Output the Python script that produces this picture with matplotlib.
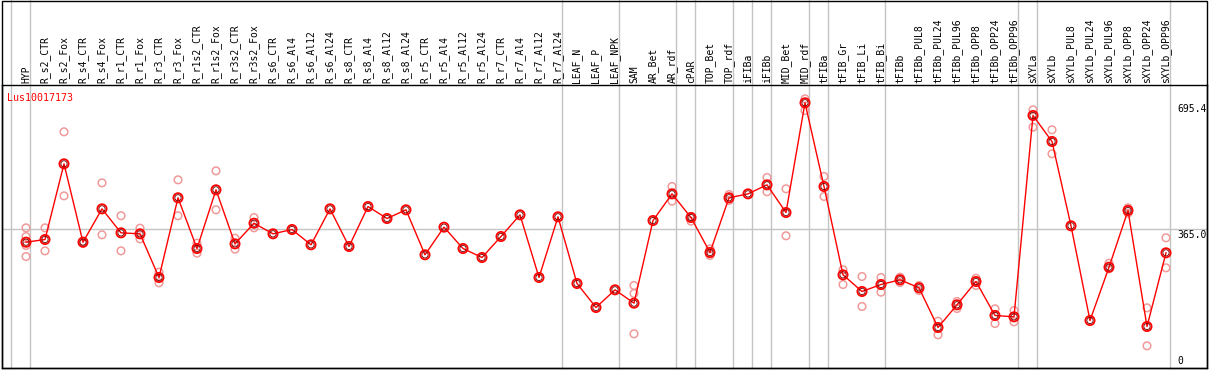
import matplotlib.pyplot as plt
from matplotlib.patches import Rectangle

# sample names along the top
samples = [
    "HYP", "R_s2_CTR", "R_s2_Fox", "R_s4_CTR", "R_s4_Fox", "R_r1_CTR", "R_r1_Fox",
    "R_r3_CTR", "R_r3_Fox", "R_r1s2_CTR", "R_r1s2_Fox", "R_r3s2_CTR", "R_r3s2_Fox",
    "R_s6_CTR", "R_s6_Al4", "R_s6_Al12", "R_s6_Al24", "R_s8_CTR", "R_s8_Al4",
    "R_s8_Al12", "R_s8_Al24", "R_r5_CTR", "R_r5_Al4", "R_r5_Al12", "R_r5_Al24",
    "R_r7_CTR", "R_r7_Al4", "R_r7_Al12", "R_r7_Al24", "LEAF_N", "LEAF_P", "LEAF_NPK",
    "SAM", "AR_Bet", "AR_rdf", "cPAR", "TOP_Bet", "TOP_rdf", "iFIBa", "iFIBb",
    "MID_Bet", "MID_rdf", "tFIBa", "tFIB_Gr", "tFIB_Li", "tFIB_Bi", "tFIBb",
    "tFIBb_PUL8", "tFIBb_PUL24", "tFIBb_PUL96", "tFIBb_OPP8", "tFIBb_OPP24",
    "tFIBb_OPP96", "sXYLa", "sXYLb", "sXYLb_PUL8", "sXYLb_PUL24", "sXYLb_PUL96",
    "sXYLb_OPP8", "sXYLb_OPP24", "sXYLb_OPP96",
]

# mean expression per sample
means = [
    329.9, 336.9, 535.3, 329.9, 417.3, 354.4, 351.8, 237.3, 446.3, 313.3,
    467.2, 325.5, 379.6, 351.8, 363.1, 323.0, 417.3, 318.6, 423.4, 392.0,
    414.8, 296.8, 369.3, 313.3, 289.7, 344.8, 401.6, 237.3, 396.4, 221.6,
    158.6, 205.0, 170.0, 386.7, 456.6, 394.6, 302.8, 446.3, 456.6, 480.3,
    407.7, 695.4, 475.9, 244.3, 200.6, 218.9, 231.3, 210.3, 106.2, 165.7,
    226.8, 137.7, 134.2, 662.1, 593.9, 372.8, 124.5, 264.3, 413.0, 108.8,
    302.0,
]

# individual replicates per sample
replicates = [
    [367.5, 344.8, 321.2, 292.3], [367.5, 307.2], [619.3, 451.4], [332.0, 327.0],
    [485.5, 349.2], [399.2, 307.2], [366.6, 338.7], [251.3, 223.3], [493.4, 399.2],
    [327.3, 301.1], [517.0, 414.8], [340.4, 311.6], [394.6, 367.5],
    [], [], [], [], [], [], [], [], [], [], [], [], [], [], [], [], [], [], [],
    [216.3, 195.3, 89.6], [], [475.9, 437.3], [397.0, 385.0], [312.4, 295.0],
    [454.9, 439.2], [], [499.5, 462.1], [469.9, 346.7], [705.8, 675.2],
    [502.1, 449.7], [257.5, 218.9], [239.9, 161.3], [237.3, 198.8], [238.1, 224.2],
    [216.3, 203.2], [122.7, 87.0], [174.4, 156.0], [235.5, 216.3], [155.2, 116.7],
    [150.8, 121.1], [677.0, 631.4], [624.6, 561.6], [], [], [274.8, 260.1],
    [420.0, 405.9], [157.8, 58.2], [341.4, 262.7],
]

# group separators sit just right of these sample indices
group_ends = [-1, 0, 28, 31, 34, 35, 37, 38, 39, 41, 42, 45, 52, 53, 60]

gene = "Lus10017173"
y_ticks = [0, 365.0, 695.4]
y_tick_labels = ["0", "365.0", "695.4"]

W, H = 1209, 370
fig = plt.figure(figsize=(W / 100, H / 100), dpi=100)
ax = fig.add_axes([2 / W, 2 / H, 1205 / W, 283 / H])

mono = "DejaVu Sans Mono"
red = "#ff0000"
pink = "#f09a9a"
grid = "#c4c4c4"

x = list(range(len(samples)))

# horizontal reference line at the middle tick
ax.axhline(y_ticks[1], color=grid, lw=1, zorder=0)

# group separators run up through the label area
top_ext = 1 + 85 / 283
for g in group_ends:
    ax.axvline(g + 0.23, ymin=0, ymax=top_ext, color=grid, lw=1, clip_on=False, zorder=0)

# replicates
for i, reps in enumerate(replicates):
    if reps:
        ax.scatter([i] * len(reps), reps, s=30, facecolors="none", edgecolors=pink,
                   linewidths=1.1, zorder=2)

# means
ax.plot(x, means, color=red, lw=1, zorder=3)
ax.scatter(x, means, s=44, facecolors="none", edgecolors=red, linewidths=1.3, zorder=4)
ax.scatter(x, means, s=20, facecolors="none", edgecolors="#700000", linewidths=0.6, zorder=5)

ax.set_xlim(-24 / 19, 1181 / 19)
ax.set_ylim(0, 283 * 2.622)
ax.set_xticks([])
ax.set_yticks([])
for sp in ax.spines.values():
    sp.set_color("black")
    sp.set_linewidth(1)

# sample labels (rotated), above the plot
for i, name in enumerate(samples):
    ax.text(i, 1.007, name, transform=ax.get_xaxis_transform(), rotation=90,
            ha="center", va="bottom", fontsize=7, family=mono, clip_on=False)

# right-side value labels, inside the frame
for v, lab in zip(y_ticks, y_tick_labels):
    va = "bottom" if v == 0 else "top"
    ax.text(0.9755, v + (4 if v == 0 else -2), lab,
            transform=ax.get_yaxis_transform(), ha="left", va=va,
            fontsize=7, family=mono)

ax.text(0.004, 0.97, gene, transform=ax.transAxes, ha="left", va="top",
        color=red, fontsize=7.2, family=mono)

# outer border
fig.patches.append(Rectangle((2 / W, 2 / H), 1205 / W, 367 / H, transform=fig.transFigure,
                             fill=False, edgecolor="black", lw=1))

fig.savefig("out.png", dpi=100)
